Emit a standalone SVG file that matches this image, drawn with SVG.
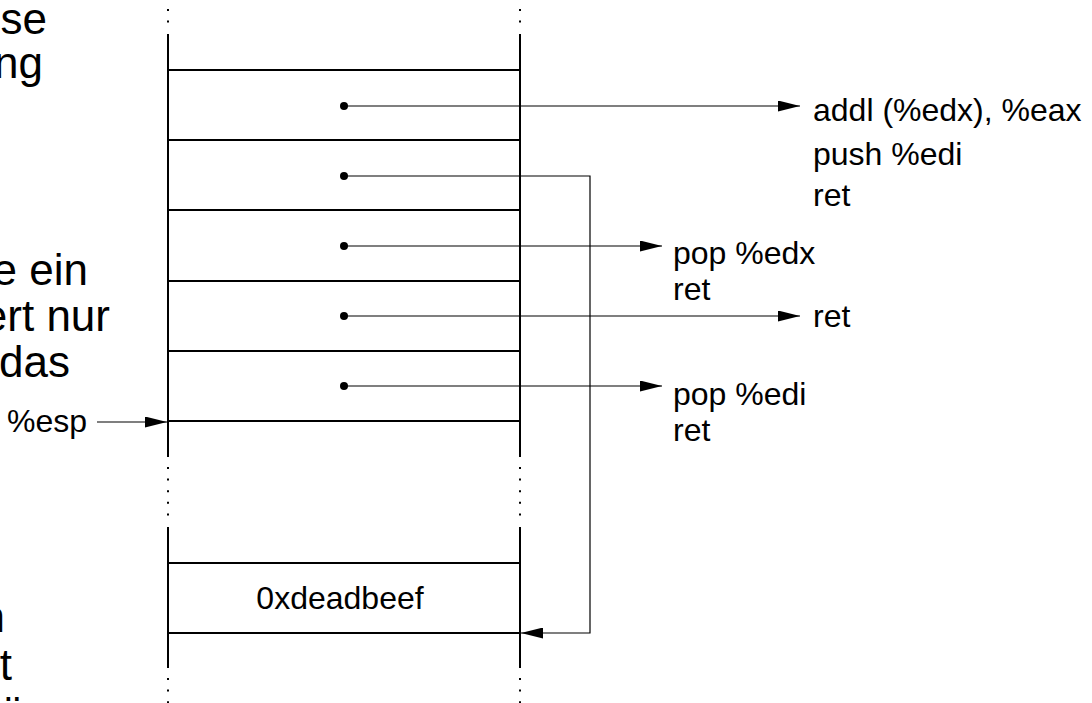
<svg xmlns="http://www.w3.org/2000/svg" width="1092" height="703" viewBox="0 0 1092 703">
  <style>
    .wall { stroke: #000; stroke-width: 2; fill: none; }
    .dots { stroke: #000; stroke-width: 2; stroke-dasharray: 2 9.6; fill: none; }
    .slot { stroke: #000; stroke-width: 2; fill: none; }
    .link { stroke: #000; stroke-width: 1.2; fill: none; }
    .side { font-family: "Liberation Sans", Arial, sans-serif; font-size: 44px; fill: #000; }
    .code { font-family: "Liberation Sans", Arial, sans-serif; font-size: 32px; fill: #000; }
    .value { font-family: "Liberation Sans", Arial, sans-serif; font-size: 32px; fill: #000; }
  </style>
  <defs>
    <marker id="head" viewBox="0 0 22 11" refX="22" refY="5.5" markerWidth="22" markerHeight="11" markerUnits="userSpaceOnUse" orient="auto">
      <path d="M0,0 L22,5.5 L0,11 Z" fill="#000"/>
    </marker>
  </defs>
  <rect width="1092" height="703" fill="#fff"/>

  <!-- explanatory text, cut by the left edge -->
  <g id="side-text" class="side">
    <text x="47" y="34" text-anchor="end">sse</text>
    <text x="43" y="78" text-anchor="end">ng</text>
    <text x="88" y="285" text-anchor="end">e ein</text>
    <text x="110" y="331" text-anchor="end">ert nur</text>
    <text x="70" y="377" text-anchor="end">das</text>
    <text x="5" y="632" text-anchor="end">n</text>
    <text x="12" y="680" text-anchor="end">t</text>
    <text x="25" y="728" text-anchor="end">ü</text>
  </g>

  <!-- stack walls with elided parts -->
  <g id="stack">
    <line class="dots" x1="168" y1="9" x2="168" y2="24"/>
    <line class="dots" x1="520" y1="9" x2="520" y2="24"/>
    <line class="wall" x1="168" y1="34" x2="168" y2="457"/>
    <line class="wall" x1="520" y1="34" x2="520" y2="457"/>
    <line class="dots" x1="168" y1="467" x2="168" y2="517"/>
    <line class="dots" x1="520" y1="467" x2="520" y2="517"/>
    <line class="wall" x1="168" y1="527" x2="168" y2="668"/>
    <line class="wall" x1="520" y1="527" x2="520" y2="668"/>
    <line class="dots" x1="168" y1="678" x2="168" y2="706"/>
    <line class="dots" x1="520" y1="678" x2="520" y2="706"/>
  </g>

  <!-- stack slots -->
  <g id="slots">
    <line class="slot" x1="168" y1="70" x2="520" y2="70"/>
    <line class="slot" x1="168" y1="140" x2="520" y2="140"/>
    <line class="slot" x1="168" y1="210" x2="520" y2="210"/>
    <line class="slot" x1="168" y1="281" x2="520" y2="281"/>
    <line class="slot" x1="168" y1="351" x2="520" y2="351"/>
    <line class="slot" x1="168" y1="421" x2="520" y2="421"/>
  </g>
  <g id="deadbeef">
    <line class="slot" x1="168" y1="563" x2="520" y2="563"/>
    <line class="slot" x1="168" y1="633" x2="520" y2="633"/>
    <text class="value" x="340" y="609" text-anchor="middle">0xdeadbeef</text>
  </g>

  <!-- stack pointer -->
  <g id="esp">
    <text class="code" x="87" y="432" text-anchor="end">%esp</text>
  </g>

  <!-- gadget targets -->
  <g id="gadget1" class="code">
    <text x="813" y="121">addl (%edx), %eax</text>
    <text x="813" y="165">push %edi</text>
    <text x="813" y="206">ret</text>
  </g>
  <g id="gadget2" class="code">
    <text x="673" y="264">pop %edx</text>
    <text x="673" y="300">ret</text>
  </g>
  <g id="gadget3" class="code">
    <text x="813" y="327">ret</text>
  </g>
  <g id="gadget4" class="code">
    <text x="673" y="405">pop %edi</text>
    <text x="673" y="441">ret</text>
  </g>

  <!-- pointers from stack slots -->
  <g id="connectors">
    <g fill="#000">
      <circle cx="344" cy="106" r="4"/>
      <circle cx="344" cy="176" r="4"/>
      <circle cx="344" cy="246" r="4"/>
      <circle cx="344" cy="316" r="4"/>
      <circle cx="344" cy="386" r="4"/>
    </g>
    <line class="link" x1="344" y1="106" x2="800" y2="106" marker-end="url(#head)"/>
    <polyline class="link" points="344,176 590,176 590,633 521,633" marker-end="url(#head)"/>
    <line class="link" x1="344" y1="246" x2="662" y2="246" marker-end="url(#head)"/>
    <line class="link" x1="344" y1="316" x2="800" y2="316" marker-end="url(#head)"/>
    <line class="link" x1="344" y1="386" x2="662" y2="386" marker-end="url(#head)"/>
    <line class="link" x1="97" y1="422" x2="167" y2="422" marker-end="url(#head)"/>
  </g>
</svg>
